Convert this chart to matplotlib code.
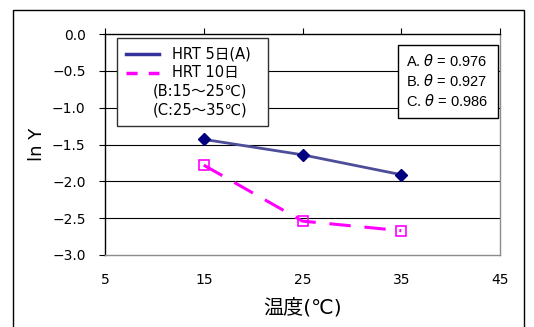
import matplotlib
matplotlib.use("Agg")
import matplotlib.pyplot as plt
from matplotlib.patches import Rectangle
from matplotlib.lines import Line2D

plt.rcParams['font.family'] = ['DejaVu Sans', 'Noto Sans CJK JP']

# ---- data ----
temps = [15, 25, 35]
hrt5 = [-1.43, -1.64, -1.91]
hrt10 = [-1.78, -2.54, -2.67]
label5 = "HRT 5日(A)"
label10 = "HRT 10日"
notes = ["(B:15～25℃)", "(C:25～35℃)"]
theta_lines = [r"A. $\theta$ = 0.976", r"B. $\theta$ = 0.927", r"C. $\theta$ = 0.986"]
xticks = [5, 15, 25, 35, 45]
yticks = [0.0, -0.5, -1.0, -1.5, -2.0, -2.5, -3.0]

W, H = 534, 327
fig = plt.figure(figsize=(W / 100, H / 100), dpi=100)
L, R, T, B = 105, 500, 34, 255
ax = fig.add_axes([L / W, 1 - B / H, (R - L) / W, (B - T) / H])

# outer chart frame
fig.patches.append(Rectangle((13 / W, -0.05), (524 - 13) / W, 1 - 10 / H + 0.05,
                             transform=fig.transFigure, fill=False,
                             edgecolor='black', linewidth=1.0))

ax.set_xlim(5, 45)
ax.set_ylim(-3.0, 0.0)
ax.set_xticks(xticks)
ax.set_yticks(yticks)
ax.set_yticklabels([f"{v:.1f}".replace("-", "\u2212") if v != 0 else "0.0" for v in yticks])

for yv in yticks[1:-1]:
    ax.axhline(yv, color='black', linewidth=0.8, zorder=1)

ax.spines['left'].set_color('black')
ax.spines['top'].set_color('black')
ax.spines['bottom'].set_color('#8c8c8c')
ax.spines['right'].set_color('#8c8c8c')
for s in ax.spines.values():
    s.set_linewidth(1.0)

ax.tick_params(axis='x', top=True, bottom=False, labeltop=False, labelbottom=True,
               direction='out', length=4, width=0.8, pad=9, labelsize=10)
ax.tick_params(axis='y', left=True, right=False, direction='out', length=4,
               width=0.8, pad=10, labelsize=10)

ax.set_xlabel("温度(℃)", fontsize=14.5, labelpad=8)
ax.set_ylabel("ln Y", fontsize=13, labelpad=4)

ax.plot(temps, hrt5, color='#4d4d99', linewidth=2.0, marker='D', markersize=6.5,
        markerfacecolor='#000080', markeredgecolor='#000080', zorder=3)
ax.plot(temps, hrt10, color='#ff00ff', linewidth=2.2, dashes=(7, 4.5), marker='s',
        markersize=7.5, markerfacecolor='none', markeredgecolor='#ff00ff',
        markeredgewidth=1.2, zorder=3)

# legend box (manual, to allow the note lines)
def axx(px):
    return (px - L) / (R - L)

def axy(py):
    return (B - py) / (B - T)

ax.add_patch(Rectangle((axx(117), axy(126)), axx(268) - axx(117), axy(38) - axy(126),
                       transform=ax.transAxes, facecolor='white', edgecolor='#303030',
                       linewidth=1.0, zorder=4))
ax.add_line(Line2D([axx(126), axx(159)], [axy(54), axy(54)], transform=ax.transAxes,
                   color='#333399', linewidth=2.5, zorder=5))
ax.add_line(Line2D([axx(126), axx(159)], [axy(72.5), axy(72.5)], transform=ax.transAxes,
                   color='#ff00ff', linewidth=2.5, dashes=(3.2, 3.2), zorder=5))
ax.text(axx(172), axy(54), label5, transform=ax.transAxes, fontsize=10.5,
        va='center', ha='left', zorder=6)
ax.text(axx(172), axy(72.5), label10, transform=ax.transAxes, fontsize=10.5,
        va='center', ha='left', zorder=6)
ax.text(axx(153), axy(91.5), notes[0], transform=ax.transAxes, fontsize=10.5,
        va='center', ha='left', zorder=6)
ax.text(axx(153), axy(110), notes[1], transform=ax.transAxes, fontsize=10.5,
        va='center', ha='left', zorder=6)

# theta box
ax.add_patch(Rectangle((axx(398), axy(118)), axx(498) - axx(398), axy(45) - axy(118),
                       transform=ax.transAxes, facecolor='white', edgecolor='black',
                       linewidth=1.0, zorder=4))
for i, t in enumerate(theta_lines):
    ax.text(axx(406), axy(61.5 + 19.7 * i), t, transform=ax.transAxes, fontsize=10.5,
            va='center', ha='left', family=['Liberation Sans'], zorder=6)

fig.savefig("out.png", dpi=100)
